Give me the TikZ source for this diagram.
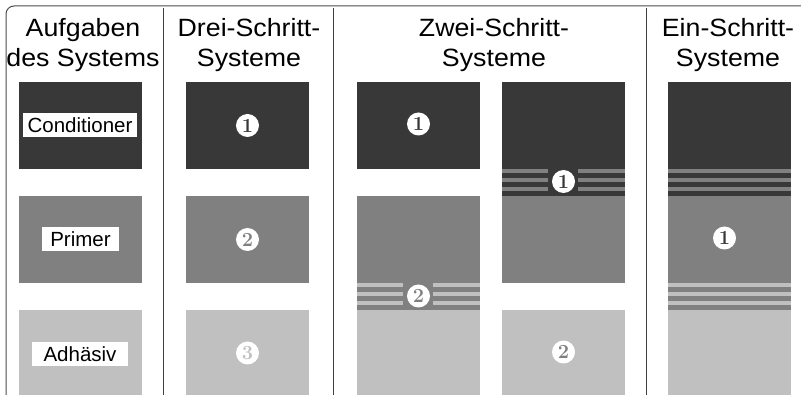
\documentclass[tikz,border=0pt]{standalone}
\usepackage{fontspec}
\newfontfamily\headfont{Liberation Sans}
\usepackage{xcolor}
\definecolor{layerdark}{HTML}{383838}
\definecolor{layermid}{HTML}{808080}
\definecolor{layerlight}{HTML}{C0C0C0}

\begin{document}
\begin{tikzpicture}[x=1pt,y=-1pt,
  dark/.style={fill=layerdark},
  mid/.style={fill=layermid},
  light/.style={fill=layerlight},
  head/.style={font=\headfont\fontsize{25}{30}\selectfont,align=center,anchor=base,xscale=1.07},
  lbl/.style={fill=white,font=\headfont\fontsize{20.5}{24}\selectfont,inner sep=0pt,minimum height=24pt},
  num/.style={circle,fill=white,inner sep=0pt,minimum size=23pt,font=\bfseries\fontsize{20}{20}\selectfont}]
\useasboundingbox (0,0) rectangle (801,395);
% frame and column rules
\draw[black!70,line width=1pt,rounded corners=8pt] (6,396) -- (6,6) -- (802,6);
\draw[black!75,line width=1pt] (163,8) -- (163,396);
\draw[black!75,line width=1pt] (333,8) -- (333,396);
\draw[black!75,line width=1pt] (646,8) -- (646,396);
% headings
\node[head] (hAufgaben) at (83,66.5) {Aufgaben\\des Systems};
\node[head] (hDrei) at (249,66.5) {Drei-Schritt-\\Systeme};
\node[head] (hZwei) at (494,66.5) {Zwei-Schritt-\\Systeme};
\node[head] (hEin) at (728,66.5) {Ein-Schritt-\\Systeme};
% tasks
\fill[dark] (19,82) rectangle (142,169);
\fill[mid] (19,196) rectangle (142,283);
\fill[light] (19,310) rectangle (142,396);
\node[lbl,minimum width=114pt] (tCond) at (80,125) {Conditioner};
\node[lbl,minimum width=77pt] (tPrimer) at (80.5,239.5) {Primer};
\node[lbl,minimum width=96pt] (tAdh) at (80,354) {Adh\"asiv};
% three steps
\fill[dark] (186,82) rectangle (309,169);
\fill[mid] (186,196) rectangle (309,283);
\fill[light] (186,310) rectangle (309,396);
\node[num,text=layerdark] (dOne) at (247.5,125.5) {1};
\node[num,text=layermid] (dTwo) at (247.5,239.5) {2};
\node[num,text=layerlight] (dThree) at (247.5,353) {3};
% two steps, left
\fill[dark] (357,82) rectangle (480,169);
\fill[mid] (357,196) rectangle (480,310);
\foreach \s in {0,9,18}
  \fill[light] (357,{283+\s}) rectangle (480,{287.5+\s});
\fill[mid] (403,283) rectangle (433,310);
\fill[light] (357,310) rectangle (480,396);
\node[num,text=layerdark] (zOne) at (418.5,124) {1};
\node[num,text=layermid] (zTwo) at (418.5,296) {2};
% two steps, right
\fill[dark] (502,82) rectangle (625,196);
\foreach \s in {0,9,18}
  \fill[mid] (502,{169+\s}) rectangle (625,{173.5+\s});
\fill[dark] (548,169) rectangle (578,196);
\fill[mid] (502,196) rectangle (625,283);
\fill[light] (502,310) rectangle (625,396);
\node[num,text=layerdark] (zzOne) at (563.5,181.5) {1};
\node[num,text=layermid] (zzTwo) at (563.5,352) {2};
% one step
\fill[dark] (668,82) rectangle (791,196);
\foreach \s in {0,9,18}
  \fill[mid] (668,{169+\s}) rectangle (791,{173.5+\s});
\fill[mid] (668,196) rectangle (791,310);
\foreach \s in {0,9,18}
  \fill[light] (668,{283+\s}) rectangle (791,{287.5+\s});
\fill[light] (668,310) rectangle (791,396);
\node[num,text=layerdark] (eOne) at (724.5,238) {1};
\end{tikzpicture}
\end{document}
